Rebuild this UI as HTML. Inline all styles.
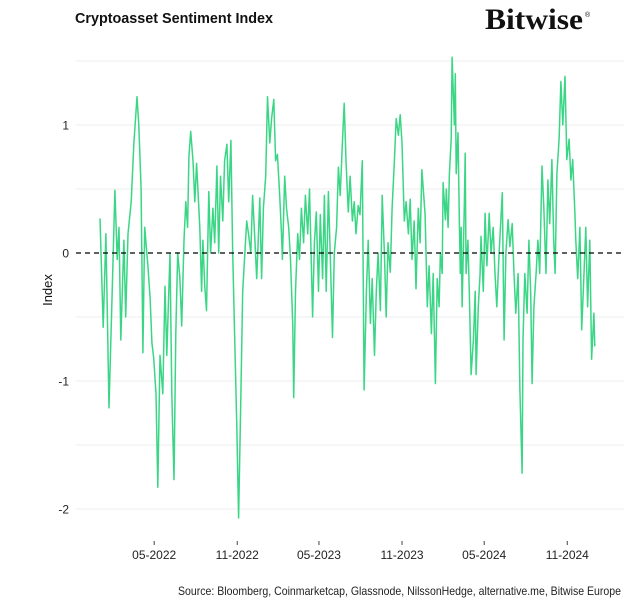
<!DOCTYPE html>
<html><head><meta charset="utf-8"><style>
body{margin:0;background:#fff;}
svg{display:block;font-family:"Liberation Sans",Arial,sans-serif;}
</style></head><body>
<svg id="chart" width="633" height="605" viewBox="0 0 633 605" xmlns="http://www.w3.org/2000/svg">
<rect width="633" height="605" fill="#fff"/>
<text x="75" y="23" font-size="14.5" font-weight="bold" fill="#111" textLength="198" lengthAdjust="spacingAndGlyphs">Cryptoasset Sentiment Index</text>
<g>
<text x="485" y="29" font-family="'Liberation Serif',serif" font-size="30" font-weight="bold" fill="#111" textLength="98" lengthAdjust="spacingAndGlyphs">Bitwise</text>
<text x="585" y="17" font-size="7" fill="#111">®</text>
</g>
<g id="grid"></g>
<g id="yaxis"></g>
<g id="xaxis"></g>
<text transform="translate(52,290) rotate(-90)" text-anchor="middle" font-size="13" fill="#111">Index</text>
<g id="plot"></g>
<text x="178" y="595" font-size="12" fill="#222" textLength="443" lengthAdjust="spacingAndGlyphs">Source: Bloomberg, Coinmarketcap, Glassnode, NilssonHedge, alternative.me, Bitwise Europe</text>
</svg>
<script>
const days=[0,7,13,20,27,33,38,42,46,53,57,62,69,75,82,86,91,95,99,106,111,115,119,124,128,133,139,144,148,155,159,164,168,172,177,181,186,190,194,197,201,206,210,214,221,225,228,232,236,241,245,250,254,259,263,267,272,276,281,285,290,294,298,303,307,312,316,320,325,329,334,338,343,347,351,354,358,362,367,371,376,380,385,389,393,398,402,404,409,413,418,422,427,429,433,438,442,446,451,455,460,464,469,471,475,479,484,488,493,497,501,506,510,515,519,524,528,532,537,541,545,550,554,559,563,567,572,576,581,585,590,594,599,603,608,612,616,621,625,630,634,638,643,647,652,656,661,665,669,674,678,683,687,691,696,700,705,709,713,720,725,729,734,738,743,747,751,754,758,760,765,767,771,774,778,780,785,787,789,793,796,798,800,802,807,809,811,815,818,822,827,831,833,838,842,844,849,853,857,862,866,871,875,879,884,891,895,899,904,908,913,917,921,926,930,935,937,941,946,950,954,957,961,966,970,974,979,983,988,992,996,1001,1005,1008,1012,1017,1021,1025,1030,1034,1039,1043,1047,1052,1054,1058,1063,1067,1072,1076,1080,1085,1089,1094,1096];
const values=[0.27,-0.58,0.15,-1.21,-0.3,0.49,-0.05,0.2,-0.68,0.1,-0.5,0.15,0.4,0.86,1.22,1.0,0.5,-0.78,0.2,-0.1,-0.35,-0.7,-0.82,-1.1,-1.83,-0.8,-1.1,-0.26,-0.8,0,-1.1,-1.77,-0.63,0,-0.2,-0.57,0.1,0.4,0.2,0.75,0.95,0.72,0.4,0.7,0.2,-0.3,0.1,-0.25,-0.45,0.48,0,0.35,0.08,0.68,0,0.6,0.25,0.72,0.85,0.4,0.88,0,-0.6,-1.35,-2.07,-1.1,-0.3,-0.05,0.25,0.15,0,0.45,0.1,-0.2,0.15,0.43,-0.2,0.35,0.6,1.22,0.86,1.05,1.2,0.72,0.77,0.45,0.15,-0.05,0.6,0.35,0.2,-0.05,-0.57,-1.13,-0.3,0.15,-0.05,0.35,0.08,0.45,0.15,0.5,-0.2,-0.5,0.08,0.32,-0.3,0.3,-0.2,0.45,-0.3,0.48,0,-0.66,0,0.2,0.67,0.45,0.86,1.17,0.72,0.32,0.6,0.25,0.4,0.15,0.37,0.3,0.72,-1.07,-0.3,0.1,-0.55,-0.2,-0.8,-0.3,0,-0.45,0.45,0,-0.5,0.08,-0.15,0.35,0.72,1.05,0.92,1.08,0.86,0.25,0.4,0.15,0.42,-0.05,0.25,-0.28,0.35,0.08,0.65,0.3,-0.42,-0.1,-0.63,-0.16,-1.02,-0.2,-0.42,0,-0.16,0.55,0.26,0.5,0.2,0.62,0.89,1.53,1.0,1.4,0.62,0.94,0.23,-0.16,0.2,-0.42,0.36,0.78,-0.16,0.1,-0.3,-0.95,-0.68,-0.3,-0.95,-0.42,-0.16,0.13,-0.3,0.31,-0.1,0.31,0,0.2,-0.16,-0.42,0,0.47,-0.68,0,0.26,0.05,0.23,-0.16,-0.47,-0.16,-1.07,-1.72,-0.68,-0.16,-0.47,0.1,-0.31,-1.02,-0.42,-0.16,0.1,-0.16,0.68,0.36,-0.16,0.57,0.23,0.73,0.1,-0.16,0.62,0.89,1.34,1.0,1.38,0.73,0.89,0.57,0.73,0.31,0.1,-0.2,0.2,-0.6,-0.16,0.2,-0.42,0.1,-0.83,-0.47,-0.73];
const yTicks=[1,0,-1,-2];
const yGrid=[1.5,1,0.5,-0.5,-1,-1.5,-2];
const xTickDays=[120,304,485,669,851,1035];
const xTickLabels=["05-2022","11-2022","05-2023","11-2023","05-2024","11-2024"];
const NS="http://www.w3.org/2000/svg";
const xS=d=>100+d/2.215;
const yS=v=>253-v*128;
function mk(t,a,p){const e=document.createElementNS(NS,t);for(const k in a)e.setAttribute(k,a[k]);p.appendChild(e);return e;}
const grid=document.getElementById('grid'),ya=document.getElementById('yaxis'),xa=document.getElementById('xaxis'),plot=document.getElementById('plot');
yGrid.forEach(v=>{const l=mk('line',{x1:76,x2:624,y1:yS(v),y2:yS(v),stroke:'#ececec','stroke-width':1},grid);

});
yTicks.forEach(v=>{const t=mk('text',{x:69,y:yS(v)+4.5,'text-anchor':'end','font-size':12,fill:'#222'},ya);t.textContent=v;

});
xTickDays.forEach((d,i)=>{const tk=mk('line',{x1:xS(d),x2:xS(d),y1:541,y2:545,stroke:'#444','stroke-width':1},xa);


const t=mk('text',{x:xS(d),y:559,'text-anchor':'middle','font-size':12,fill:'#222'},xa);t.textContent=xTickLabels[i];

});
const pts=days.map((d,i)=>xS(d).toFixed(1)+','+yS(values[i]).toFixed(1)).join(' ');
const line=mk('polyline',{points:pts,fill:'none',stroke:'#3ad685','stroke-width':1.5,'stroke-linejoin':'round'},plot);


const z=mk('line',{x1:76,x2:624,y1:yS(0),y2:yS(0),stroke:'#000','stroke-width':1.3,'stroke-dasharray':'5,4'},plot);


</script>
</body></html>
